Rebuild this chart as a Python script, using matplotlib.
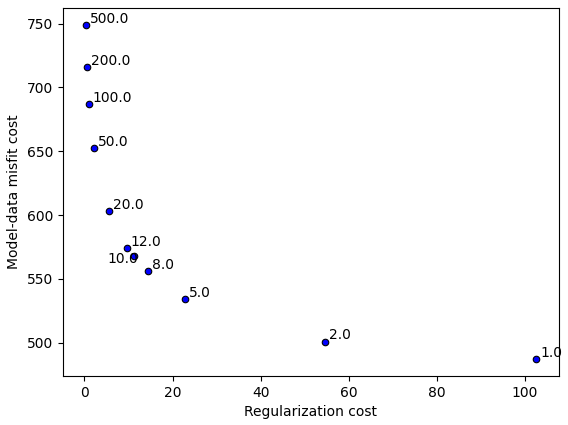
import matplotlib
matplotlib.use("Agg")
import matplotlib.pyplot as plt

# regularization weights and the two cost terms for each run
weights = [500.0, 200.0, 100.0, 50.0, 20.0, 12.0, 10.0, 8.0, 5.0, 2.0, 1.0]
reg_cost = [0.25, 0.5, 0.95, 2.1, 5.6, 9.6, 11.2, 14.4, 22.8, 54.6, 102.6]
misfit_cost = [749, 716, 687, 652.5, 603.5, 574.5, 568, 556, 534, 501, 487]

fig, ax = plt.subplots(figsize=(5.68, 4.25), dpi=100)
fig.subplots_adjust(left=0.111, right=0.984, top=0.981, bottom=0.115)

ax.scatter(reg_cost, misfit_cost, s=22, c="blue", edgecolors="black", linewidths=0.8, zorder=3)

for w, x, y in zip(weights, reg_cost, misfit_cost):
	if w == 10.0:
		ax.annotate(str(w), (x, y), xytext=(3, 3), textcoords="offset points", ha="right", va="top", fontsize=10)
	else:
		ax.annotate(str(w), (x, y), xytext=(3, 1.5), textcoords="offset points", ha="left", va="baseline", fontsize=10)

ax.set_xlabel("Regularization cost")
ax.set_ylabel("Model-data misfit cost")

plt.savefig("out.png", dpi=100)
